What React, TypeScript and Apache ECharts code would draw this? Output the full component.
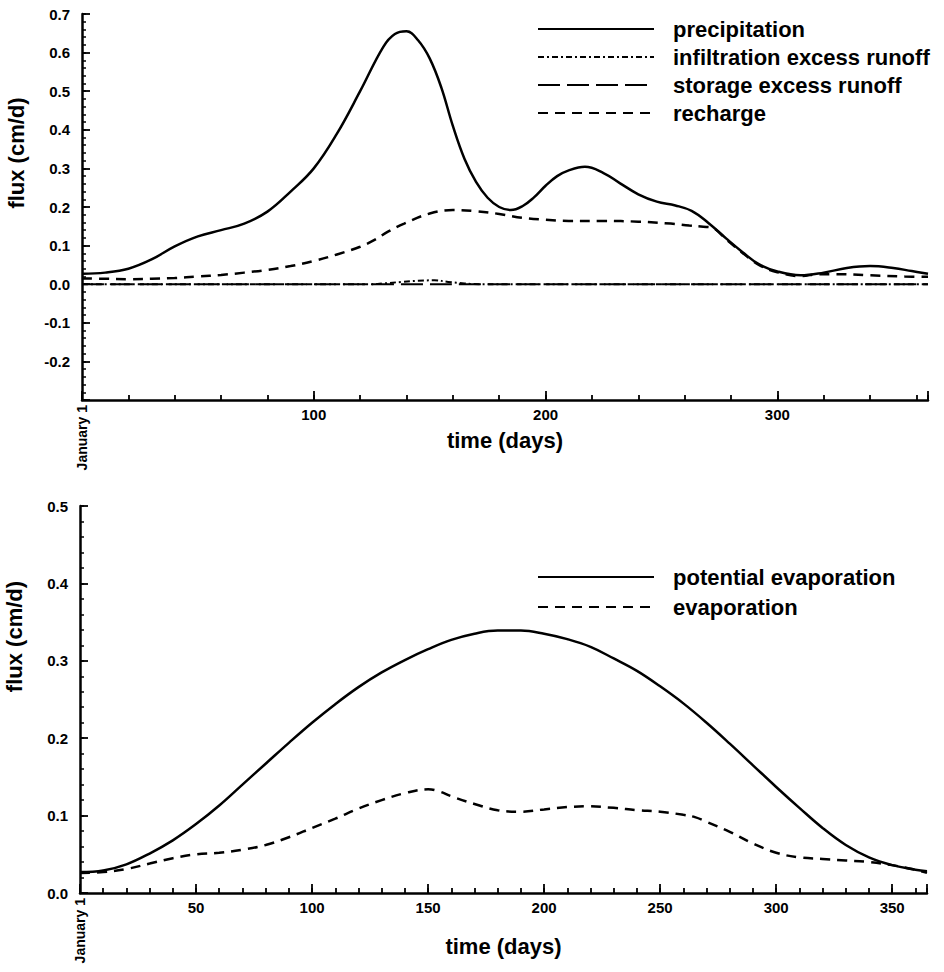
import React, { useEffect, useRef } from 'react';
import * as echarts from 'echarts';

// ---------- Top panel data (day of year, flux cm/d) ----------
const precipDays = [0, 10, 20, 30, 40, 50, 60, 70, 80, 90, 100, 110, 120, 130, 135, 140, 145, 150, 155, 160, 165, 170, 175, 180, 185, 190, 195, 200, 205, 210, 217, 225, 232, 240, 248, 256, 263, 270, 278, 285, 292, 300, 310, 320, 330, 340, 350, 358, 365];
const precipVals = [0.027, 0.030, 0.040, 0.064, 0.098, 0.124, 0.140, 0.157, 0.188, 0.240, 0.300, 0.390, 0.500, 0.615, 0.648, 0.655, 0.632, 0.585, 0.510, 0.410, 0.325, 0.265, 0.224, 0.200, 0.192, 0.202, 0.225, 0.255, 0.280, 0.295, 0.304, 0.288, 0.262, 0.233, 0.214, 0.204, 0.190, 0.160, 0.118, 0.083, 0.052, 0.033, 0.023, 0.030, 0.042, 0.047, 0.042, 0.034, 0.027];

const rechargeDays = [0, 10, 20, 30, 40, 50, 60, 70, 80, 90, 100, 110, 120, 126, 132, 139, 150, 160, 170, 180, 190, 200, 210, 225, 240, 254, 262, 268, 272, 278, 285, 292, 300, 310, 318, 325, 340, 355, 365];
const rechargeVals = [0.015, 0.014, 0.013, 0.014, 0.016, 0.020, 0.024, 0.030, 0.037, 0.047, 0.060, 0.077, 0.097, 0.114, 0.136, 0.157, 0.183, 0.192, 0.189, 0.182, 0.172, 0.167, 0.164, 0.164, 0.162, 0.157, 0.152, 0.149, 0.146, 0.116, 0.081, 0.050, 0.031, 0.021, 0.026, 0.026, 0.023, 0.020, 0.019];

const infilDays = [0, 125, 130, 138, 145, 152, 158, 165, 172, 365];
const infilVals = [0, 0, 0.002, 0.006, 0.009, 0.010, 0.006, 0.002, 0, 0];

const storageDays = [0, 365];
const storageVals = [0, 0];

// ---------- Bottom panel data ----------
const petDays = [0, 10, 20, 30, 40, 50, 60, 70, 80, 90, 100, 110, 120, 130, 140, 150, 160, 170, 180, 190, 200, 210, 220, 230, 240, 250, 260, 270, 280, 290, 300, 310, 320, 330, 340, 350, 360, 365];
const petVals = [0.027, 0.029, 0.037, 0.051, 0.068, 0.089, 0.113, 0.140, 0.167, 0.194, 0.220, 0.244, 0.266, 0.285, 0.301, 0.315, 0.327, 0.335, 0.339, 0.339, 0.335, 0.328, 0.318, 0.303, 0.287, 0.267, 0.245, 0.220, 0.193, 0.165, 0.137, 0.110, 0.084, 0.062, 0.046, 0.036, 0.030, 0.028];

const evapDays = [0, 10, 20, 30, 40, 50, 60, 70, 80, 90, 100, 110, 120, 130, 140, 150, 155, 160, 170, 180, 190, 200, 210, 218, 230, 240, 250, 260, 265, 270, 280, 290, 300, 310, 320, 330, 340, 350, 360, 365];
const evapVals = [0.026, 0.027, 0.031, 0.038, 0.045, 0.050, 0.052, 0.056, 0.062, 0.072, 0.084, 0.096, 0.109, 0.120, 0.129, 0.134, 0.131, 0.125, 0.115, 0.107, 0.105, 0.108, 0.111, 0.112, 0.110, 0.107, 0.105, 0.101, 0.098, 0.092, 0.079, 0.064, 0.052, 0.046, 0.044, 0.042, 0.040, 0.036, 0.030, 0.026];

const topLegend = ['precipitation', 'infiltration excess runoff', 'storage excess runoff', 'recharge'];
const bottomLegend = ['potential evaporation', 'evaporation'];
const topMajorLabels = [100, 200, 300];
const bottomMajorLabels = [50, 100, 150, 200, 250, 300, 350];
const startLabel = 'January 1';
const xTitle = 'time (days)';
const yTitle = 'flux (cm/d)';

const FONT = "'Liberation Sans', Arial, Helvetica, sans-serif";
const BLACK = '#000';

const pair = (d: number[], v: number[]) => d.map((x, i) => [x, v[i]]);

const noLine = { show: false, onZero: false };

function xMain(gridIndex: number, interval: number, labels: number[], nameGap: number) {
  return {
    type: 'value', gridIndex, position: 'bottom', min: 0, max: 365, interval,
    axisLine: { show: true, onZero: false, lineStyle: { color: BLACK, width: 2.5 } },
    axisTick: { show: true, inside: true, length: 5, lineStyle: { color: BLACK, width: 1.8 } },
    axisLabel: {
      show: true, margin: 7, color: BLACK, fontFamily: FONT, fontWeight: 'bold', fontSize: 15,
      formatter: (v: number) => (labels.indexOf(v) >= 0 ? String(v) : ''),
    },
    splitLine: { show: false },
    name: xTitle, nameLocation: 'middle', nameGap,
    nameTextStyle: { color: BLACK, fontFamily: FONT, fontWeight: 'bold', fontSize: 22 },
  };
}
function xMajor(gridIndex: number, interval: number) {
  return {
    type: 'value', gridIndex, position: 'bottom', min: 0, max: 365, interval,
    axisLine: noLine,
    axisTick: { show: true, inside: true, length: 9, lineStyle: { color: BLACK, width: 1.8 } },
    axisLabel: { show: false },
    splitLine: { show: false },
  };
}
function xStart(gridIndex: number) {
  return {
    type: 'value', gridIndex, position: 'bottom', min: 0, max: 365, interval: 100,
    axisLine: noLine,
    axisTick: { show: false },
    axisLabel: {
      show: true, rotate: 90, margin: 5, color: BLACK, fontFamily: FONT, fontWeight: 'bold', fontSize: 14,
      formatter: (v: number) => (v === 0 ? startLabel : ''),
    },
    splitLine: { show: false },
  };
}
function yMain(gridIndex: number, min: number, max: number, shift: number) {
  return {
    type: 'value', gridIndex, position: 'left', min, max, interval: 0.1,
    axisLine: { show: true, onZero: false, lineStyle: { color: BLACK, width: 2.5 } },
    axisTick: { show: true, inside: true, length: 8, lineStyle: { color: BLACK, width: 1.8 } },
    axisLabel: {
      show: true, margin: 12, color: BLACK, fontFamily: FONT, fontWeight: 'bold', fontSize: 15,
      formatter: (v: number) => (v < min + 0.05 && min < 0 ? '' : v.toFixed(1)),
    },
    splitLine: { show: false },
    name: yTitle, nameLocation: 'middle', nameGap: 55,
    nameTextStyle: { color: BLACK, fontFamily: FONT, fontWeight: 'bold', fontSize: 22, padding: [0, 0, 0, shift] },
  };
}
function yMinor(gridIndex: number, min: number, max: number) {
  return {
    type: 'value', gridIndex, position: 'left', min, max, interval: 0.02,
    axisLine: noLine,
    axisTick: { show: true, inside: true, length: 4, lineStyle: { color: BLACK, width: 1.5 } },
    axisLabel: { show: false },
    splitLine: { show: false },
  };
}

function line(name: string, data: number[][], xi: number, yi: number, type: any, width: number, z: number) {
  return {
    type: 'line', name, data, xAxisIndex: xi, yAxisIndex: yi,
    symbol: 'none', smooth: 0.4, z,
    lineStyle: { color: BLACK, width, type },
    itemStyle: { color: BLACK },
  };
}

const legendText = { color: BLACK, fontFamily: FONT, fontWeight: 'bold', fontSize: 22, padding: [0, 0, 0, 14] };
const legendCommon = {
  orient: 'vertical', left: 532, itemWidth: 116, itemHeight: 14,
  selectedMode: false, textStyle: legendText,
  itemStyle: { opacity: 0, borderWidth: 0 },
};

export default function App() {
  const ref = useRef<HTMLDivElement>(null);
  useEffect(() => {
    if (!ref.current) return;
    const chart = echarts.init(ref.current, undefined, { renderer: 'svg' });
    chart.setOption({
      animation: false,
      backgroundColor: '#fff',
      grid: [
        { left: 82, right: 16, top: 14, height: 386, outerBoundsMode: 'none', containLabel: false },
        { left: 80, right: 17, top: 506, height: 387, outerBoundsMode: 'none', containLabel: false },
      ],
      xAxis: [
        xMain(0, 20, topMajorLabels, 29),
        xMajor(0, 100),
        xStart(0),
        xMain(1, 10, bottomMajorLabels, 42),
        xMajor(1, 50),
        xStart(1),
      ],
      yAxis: [
        yMain(0, -0.3, 0.7, 108),
        yMinor(0, -0.3, 0.7),
        yMain(1, 0, 0.5, 126),
        yMinor(1, 0, 0.5),
      ],
      legend: [
        { ...legendCommon, top: 13, itemGap: 6, data: topLegend },
        { ...legendCommon, top: 561, itemGap: 8, data: bottomLegend },
      ],
      series: [
        line(topLegend[2], pair(storageDays, storageVals), 0, 0, [22, 7], 2, 2),
        line(topLegend[1], pair(infilDays, infilVals), 0, 0, [6, 3, 2, 3], 2, 3),
        line(topLegend[3], pair(rechargeDays, rechargeVals), 0, 0, [10, 7], 2.5, 4),
        line(topLegend[0], pair(precipDays, precipVals), 0, 0, 'solid', 2.5, 5),
        line(bottomLegend[1], pair(evapDays, evapVals), 3, 2, [10, 7], 2.5, 4),
        line(bottomLegend[0], pair(petDays, petVals), 3, 2, 'solid', 2.5, 5),
      ],
    });
    return () => chart.dispose();
  }, []);
  return <div ref={ref} style={{ position: 'absolute', left: 0, top: 0, width: 944, height: 972 }} />;
}
